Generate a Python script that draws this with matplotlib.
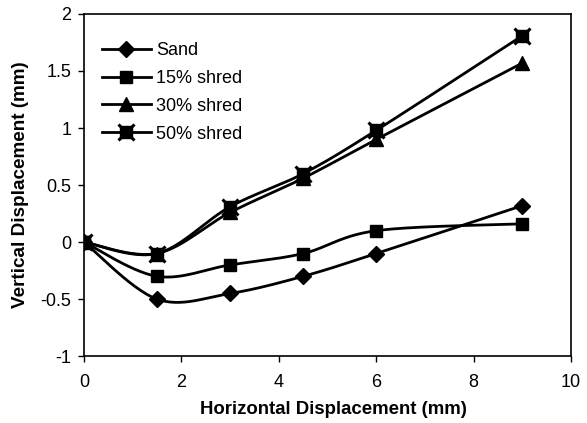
import numpy as np
import matplotlib.pyplot as plt
from matplotlib.legend_handler import HandlerTuple

plt.rcParams['font.family'] = ['Liberation Sans', 'DejaVu Sans']

x = [0, 1.5, 3, 4.5, 6, 9]
sand = [0, -0.5, -0.45, -0.3, -0.1, 0.32]
shred15 = [0, -0.3, -0.2, -0.1, 0.1, 0.16]
shred30 = [0, -0.1, 0.26, 0.56, 0.9, 1.57]
shred50 = [0, -0.1, 0.31, 0.6, 0.98, 1.81]
labels = ['Sand', '15% shred', '30% shred', '50% shred']


def smooth(px, py, n=30):
    # excel-style smoothed line (catmull-rom through bezier segments)
    pts = np.column_stack([np.asarray(px, float), np.asarray(py, float)])
    ext = np.vstack([pts[0], pts, pts[-1]])
    out = [pts[0]]
    t = np.linspace(0, 1, n)[1:, None]
    for i in range(len(pts) - 1):
        p0, p1, p2, p3 = ext[i], ext[i + 1], ext[i + 2], ext[i + 3]
        c1 = p1 + (p2 - p0) / 6
        c2 = p2 - (p3 - p1) / 6
        seg = ((1 - t) ** 3) * p1 + 3 * ((1 - t) ** 2) * t * c1 + 3 * (1 - t) * t ** 2 * c2 + t ** 3 * p2
        out.extend(seg)
    out = np.array(out)
    return out[:, 0], out[:, 1]


fig, ax = plt.subplots(figsize=(5.87, 4.23), dpi=100)
fig.subplots_adjust(left=0.143, right=0.973, top=0.967, bottom=0.158)

lw = 2.0
handles = []
for ys, mk, ms in [(sand, 'D', 8), (shred15, 's', 9), (shred30, '^', 10)]:
    sx, sy = smooth(x, ys)
    ax.plot(sx, sy, color='black', lw=lw)
    ax.plot(x, ys, ls='none', color='black', marker=mk, ms=ms)
    handles.append(plt.Line2D([], [], color='black', lw=lw, marker=mk, ms=ms))

sx, sy = smooth(x, shred50)
ax.plot(sx, sy, color='black', lw=lw)
ax.plot(x, shred50, ls='none', color='black', marker='s', ms=8)
ax.plot(x, shred50, ls='none', color='black', marker='x', ms=11, mew=2.2)
handles.append((plt.Line2D([], [], color='black', lw=lw, marker='s', ms=8),
                plt.Line2D([], [], color='black', lw=0, marker='x', ms=11, mew=2.2)))

ax.legend(handles, labels,
          handler_map={tuple: HandlerTuple(ndivide=1, pad=0)},
          loc='upper left', bbox_to_anchor=(0.037, 0.918), frameon=False,
          borderpad=0, borderaxespad=0,
          fontsize=13, handlelength=2.7, handletextpad=0.3, labelspacing=0.6)

ax.set_xlim(0, 10)
ax.set_ylim(-1, 2)
ax.set_xticks([0, 2, 4, 6, 8, 10])
ax.set_yticks([-1, -0.5, 0, 0.5, 1, 1.5, 2])
ax.set_yticklabels(['-1', '-0.5', '0', '0.5', '1', '1.5', '2'])
ax.tick_params(direction='out', length=4, width=1, labelsize=13)
ax.tick_params(axis='x', pad=9)
ax.tick_params(axis='y', pad=5)
for sp in ax.spines.values():
    sp.set_linewidth(1.2)

ax.set_xlabel('Horizontal Displacement (mm)', fontsize=13.4, fontweight='bold',
              labelpad=7)
ax.xaxis.label.set_x(0.512)
ax.set_ylabel('Vertical Displacement (mm)', fontsize=13.6, fontweight='bold',
              labelpad=8)

fig.savefig('out.png', dpi=100)
